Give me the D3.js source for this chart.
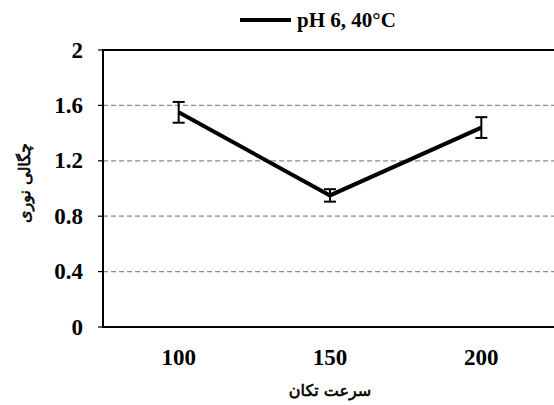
<!DOCTYPE html>
<html>
<head>
<meta charset="utf-8">
<script src="https://cdn.jsdelivr.net/npm/d3@7"></script>
<style>
  body { margin: 0; background: #fff; }
  svg { display: block; }
</style>
</head>
<body>
<svg id="chart" width="554" height="405"></svg>
<script>
// data
const speeds = ['100', '150', '200'];
const density = [1.55, 0.95, 1.44];
const errors = [0.075, 0.045, 0.075];
const yTicks = [0, 0.4, 0.8, 1.2, 1.6, 2];
const seriesName = 'pH 6, 40°C';
const xTitle = 'سرعت تکان';
const yTitle = 'چگالی نوری';

const MARGIN = { TOP: 50, LEFT: 103, RIGHT: -3, BOTTOM: 78 };
const W = 554, H = 405;
const svg = d3.select('#chart');

const x = d3.scaleBand().domain(speeds).range([MARGIN.LEFT, W - MARGIN.RIGHT]);
const y = d3.scaleLinear().domain([0, 2]).range([H - MARGIN.BOTTOM, MARGIN.TOP]);

const data = speeds.map((s, i) => ({ s, v: density[i], e: errors[i] }));
const serif = '"Liberation Serif", "Times New Roman", serif';
const persian = '"DejaVu Sans", sans-serif';

// grid
svg.append('g')
  .selectAll('line')
  .data(yTicks.filter(t => t > 0 && t < 2))
  .enter()
  .append('line')
  .attr('x1', x.range()[0])
  .attr('x2', x.range()[1])
  .attr('y1', d => y(d))
  .attr('y2', d => y(d))
  .attr('stroke', '#8c8c8c')
  .attr('stroke-width', 1.3)
  .attr('stroke-dasharray', '5,3');

// frame: top, left, bottom
svg.append('path')
  .attr('d', `M${x.range()[1]},${y(2)}H${x.range()[0]}V${y(0)}H${x.range()[1]}`)
  .attr('fill', 'none')
  .attr('stroke', '#000')
  .attr('stroke-width', 2);

// y ticks and labels
const yt = svg.append('g').selectAll('g').data(yTicks).enter().append('g')
  .attr('transform', d => `translate(0,${y(d)})`);
yt.append('line')
  .attr('x1', x.range()[0] - 5).attr('x2', x.range()[0])
  .attr('stroke', '#000').attr('stroke-width', 1.2);
yt.append('text')
  .attr('x', x.range()[0] - 20)
  .attr('dy', '0.33em')
  .attr('text-anchor', 'end')
  .style('font-family', serif)
  .style('font-weight', 'bold')
  .style('font-size', '23px')
  .text(d => d3.format('')(d));

// x axis labels
svg.append('g')
  .selectAll('text')
  .data(speeds)
  .enter()
  .append('text')
  .attr('x', d => x(d) + x.bandwidth() / 2)
  .attr('y', 365)
  .attr('text-anchor', 'middle')
  .style('font-family', serif)
  .style('font-weight', 'bold')
  .style('font-size', '23px')
  .text(d => d);

// series line
const cx = d => x(d.s) + x.bandwidth() / 2;
svg.append('path')
  .datum(data)
  .attr('d', d3.line().x(cx).y(d => y(d.v)))
  .attr('fill', 'none')
  .attr('stroke', '#000')
  .attr('stroke-width', 4);

// error bars
const eb = svg.append('g').selectAll('g').data(data).enter().append('g')
  .attr('stroke', '#000').attr('stroke-width', 2);
eb.append('line')
  .attr('x1', cx).attr('x2', cx)
  .attr('y1', d => y(d.v + d.e)).attr('y2', d => y(d.v - d.e));
eb.append('line')
  .attr('x1', d => cx(d) - 6).attr('x2', d => cx(d) + 6)
  .attr('y1', d => y(d.v + d.e)).attr('y2', d => y(d.v + d.e));
eb.append('line')
  .attr('x1', d => cx(d) - 6).attr('x2', d => cx(d) + 6)
  .attr('y1', d => y(d.v - d.e)).attr('y2', d => y(d.v - d.e));

// legend
svg.append('line')
  .attr('x1', 240).attr('x2', 291)
  .attr('y1', 20).attr('y2', 20)
  .attr('stroke', '#000').attr('stroke-width', 4);
svg.append('text')
  .attr('x', 297).attr('y', 27)
  .style('font-family', serif)
  .style('font-weight', 'bold')
  .style('font-size', '21px')
  .text(seriesName);

// axis titles
svg.append('text')
  .attr('x', 330).attr('y', 396)
  .attr('text-anchor', 'middle')
  .style('font-family', persian)
  .style('font-size', '16px')
  .attr('stroke', '#000')
  .attr('stroke-width', 0.6)
  .text(xTitle);
svg.append('text')
  .attr('transform', 'translate(30,183) rotate(-90)')
  .attr('text-anchor', 'middle')
  .style('font-family', persian)
  .style('font-size', '16px')
  .attr('stroke', '#000')
  .attr('stroke-width', 0.6)
  .text(yTitle);
</script>
</body>
</html>
